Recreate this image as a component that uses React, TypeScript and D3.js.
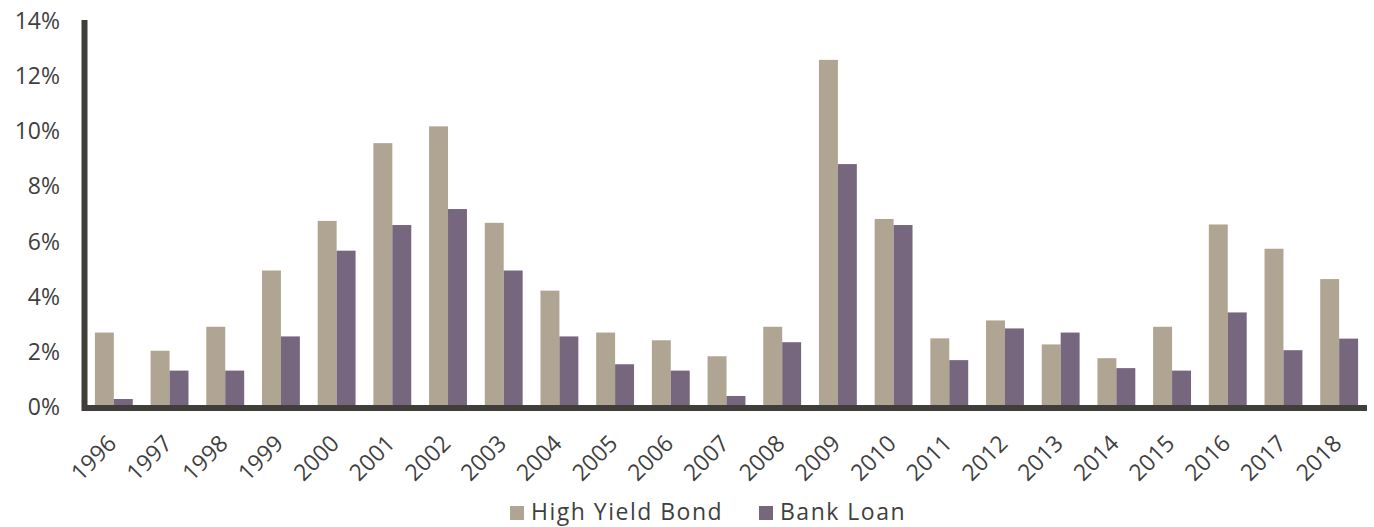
import React from "react";
import * as d3 from "d3";

const years = ["1996","1997","1998","1999","2000","2001","2002","2003","2004","2005","2006","2007","2008","2009","2010","2011","2012","2013","2014","2015","2016","2017","2018"];
const highYield = [2.70,2.04,2.91,4.95,6.75,9.57,10.18,6.68,4.22,2.70,2.42,1.84,2.91,12.59,6.82,2.49,3.14,2.27,1.77,2.91,6.62,5.74,4.64];
const bankLoan = [0.29,1.32,1.32,2.56,5.67,6.60,7.18,4.95,2.56,1.55,1.32,0.40,2.35,8.81,6.60,1.70,2.85,2.70,1.41,1.32,3.43,2.06,2.48];
const yTicks = [0,2,4,6,8,10,12,14];
const seriesNames = ["High Yield Bond","Bank Loan"];
const colors = ["#b0a592","#76677f"];

export default function App() {
  const W = 1374, H = 527;
  const x0 = 86, x1 = 1367, yTop = 21, yBot = 407;
  const x = d3.scaleBand<string>().domain(years).range([x0, x1]).paddingInner(0.32).paddingOuter(0.16);
  const xs = d3.scaleBand<string>().domain(seriesNames).range([0, x.bandwidth()]);
  const y = d3.scaleLinear().domain([0, 14]).range([yBot, yTop]);
  const font = "'Open Sans', Lato, sans-serif";
  const textColor = "#3f3f3f";
  const series = [highYield, bankLoan];
  return (
    <svg width={W} height={H} style={{ position: "absolute", left: 0, top: 0, background: "#fff" }} fontFamily={font}>
      {series.map((vals, si) =>
        years.map((yr, i) => (
          <rect key={si + "-" + yr}
            x={(x(yr) as number) + (xs(seriesNames[si]) as number)}
            y={y(vals[i])}
            width={xs.bandwidth()}
            height={yBot - y(vals[i])}
            fill={colors[si]} />
        ))
      )}
      <line x1={84.5} x2={84.5} y1={20} y2={411} stroke="#403e3a" strokeWidth={6} />
      <line x1={82} x2={1367} y1={408} y2={408} stroke="#403e3a" strokeWidth={6} />
      {yTicks.map((t) => (
        <text key={t} x={60} y={y(t) - 1} textAnchor="end" dominantBaseline="central" fontSize={23} fill={textColor}>
          {t + "%"}
        </text>
      ))}
      {years.map((yr) => {
        const cx = (x(yr) as number) + x.bandwidth() / 2 + 4;
        const cy = 445;
        return (
          <text key={yr} x={cx} y={cy} textAnchor="end" fontSize={23} fill={textColor}
            transform={`rotate(-45, ${cx}, ${cy})`}>
            {yr}
          </text>
        );
      })}
      <g>
        <rect x={510} y={506} width={14} height={14} fill={colors[0]} />
        <text x={531} y={519.5} fontSize={23} letterSpacing={1.5} fill={textColor}>{seriesNames[0]}</text>
        <rect x={759} y={506} width={14} height={14} fill={colors[1]} />
        <text x={780} y={519.5} fontSize={23} letterSpacing={1.5} fill={textColor}>{seriesNames[1]}</text>
      </g>
    </svg>
  );
}
